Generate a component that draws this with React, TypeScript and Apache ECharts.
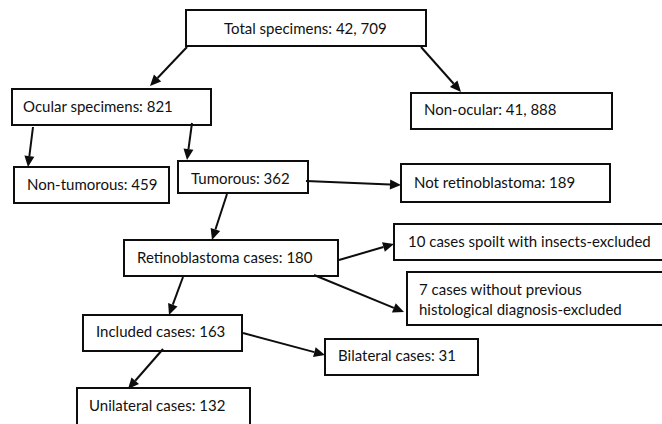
import React, { useEffect, useRef } from "react";
import * as echarts from "echarts";

// Labels of the flow chart's boxes (content)
const boxLabels: string[] = [
  "Total specimens: 42, 709",
  "Ocular specimens: 821",
  "Non-ocular: 41, 888",
  "Non-tumorous: 459",
  "Tumorous: 362",
  "Not retinoblastoma: 189",
  "Retinoblastoma cases: 180",
  "10 cases spoilt with insects-excluded",
  "7 cases without previous\nhistological diagnosis-excluded",
  "Included cases: 163",
  "Bilateral cases: 31",
  "Unilateral cases: 132",
];

// Links between boxes (indices into boxLabels)
const links: [number, number][] = [
  [0, 1],
  [0, 2],
  [1, 3],
  [1, 4],
  [4, 5],
  [4, 6],
  [6, 7],
  [6, 8],
  [6, 9],
  [9, 10],
  [9, 11],
];

// Layout (positions and sizes) — kept separate from the content
const boxLayout: { x: number; y: number; w: number; h: number; tx: number; ty: number }[] = [
  { x: 186, y: 10, w: 240, h: 36, tx: 224, ty: 28 },
  { x: 12, y: 89, w: 199, h: 36, tx: 23, ty: 106 },
  { x: 411, y: 93, w: 201, h: 36, tx: 424, ty: 109 },
  { x: 14, y: 167, w: 155, h: 36, tx: 27, ty: 184 },
  { x: 178, y: 161, w: 130, h: 32, tx: 191, ty: 178 },
  { x: 401, y: 164, w: 209, h: 38, tx: 414, ty: 182 },
  { x: 124, y: 240, w: 214, h: 36, tx: 137, ty: 257 },
  { x: 394, y: 224, w: 290, h: 36, tx: 408, ty: 241 },
  { x: 407, y: 272, w: 290, h: 53, tx: 419, ty: 299 },
  { x: 83, y: 315, w: 159, h: 36, tx: 96, ty: 331 },
  { x: 325, y: 339, w: 153, h: 36, tx: 338, ty: 355 },
  { x: 77, y: 388, w: 173, h: 60, tx: 89, ty: 405 },
];

const linkLayout: [number, number, number, number][] = [
  [187, 47, 150, 86],
  [421, 47, 461, 92],
  [33, 127, 28, 167],
  [192, 123, 187, 160],
  [306, 181, 401, 185],
  [227, 194, 212, 240],
  [339, 260, 394, 244],
  [314, 275, 404, 312],
  [183, 277, 169, 315],
  [243, 333, 325, 355],
  [163, 349, 128, 389],
];

const FONT = "Lato, 'Open Sans', sans-serif";

function buildGraphic() {
  const els: any[] = [];
  boxLabels.forEach((label, i) => {
    const b = boxLayout[i];
    els.push({
      type: "rect",
      shape: { x: b.x, y: b.y, width: b.w, height: b.h },
      style: { fill: "#ffffff", stroke: "#0d0d0d", lineWidth: 2 },
      z: 1,
    });
    els.push({
      type: "text",
      x: b.tx,
      y: b.ty,
      style: {
        text: label,
        fill: "#111111",
        font: `15px ${FONT}`,
        textAlign: "left",
        textVerticalAlign: "middle",
        lineHeight: 20,
      },
      z: 3,
    });
  });
  links.forEach((_, i) => {
    const [x1, y1, x2, y2] = linkLayout[i];
    const dx = x2 - x1;
    const dy = y2 - y1;
    const len = Math.sqrt(dx * dx + dy * dy);
    const ux = dx / len;
    const uy = dy / len;
    const hl = 11;
    const hw = 5;
    const bx = x2 - ux * hl;
    const by = y2 - uy * hl;
    els.push({
      type: "line",
      shape: { x1, y1, x2: bx, y2: by },
      style: { stroke: "#0d0d0d", lineWidth: 2 },
      z: 2,
    });
    els.push({
      type: "polygon",
      shape: {
        points: [
          [x2, y2],
          [bx - uy * hw, by + ux * hw],
          [bx + uy * hw, by - ux * hw],
        ],
      },
      style: { fill: "#0d0d0d" },
      z: 2,
    });
  });
  return els;
}

export default function App() {
  const ref = useRef<HTMLDivElement>(null);
  useEffect(() => {
    if (!ref.current) return;
    const chart = echarts.init(ref.current, undefined, { renderer: "svg" });
    chart.setOption({
      animation: false,
      backgroundColor: "#ffffff",
      graphic: { elements: buildGraphic() },
    });
    return () => chart.dispose();
  }, []);
  return (
    <div
      ref={ref}
      style={{ position: "fixed", left: 0, top: 0, width: 662, height: 424, background: "#fff" }}
    />
  );
}
